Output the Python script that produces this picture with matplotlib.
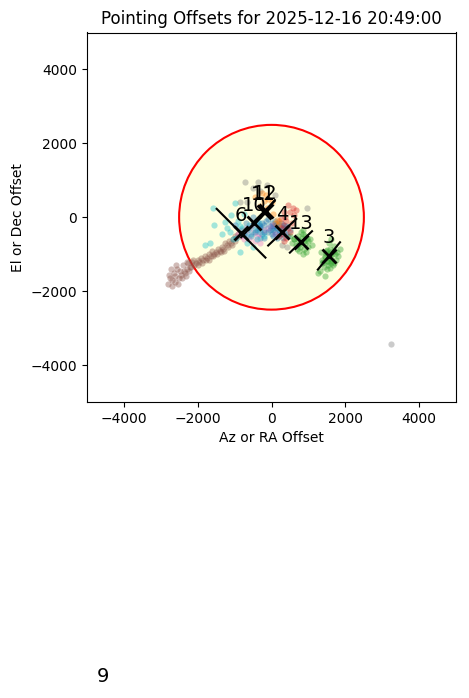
import numpy as np
import matplotlib
matplotlib.use("Agg")
import matplotlib.pyplot as plt
from matplotlib.patches import Circle

title = "Pointing Offsets for 2025-12-16 20:49:00"
xlabel = "Az or RA Offset"
ylabel = "El or Dec Offset"
limit_radius = 2500
nan = float("nan")

# scatter points per group (label -> list of (x, y))
g1 = [(-300,-300),(-200,-200),(-100,-400),(0,-300),(100,-250),(200,-350),(-250,-450),(-150,-100),
      (50,-500),(150,-150),(-350,-200),(250,-450),(-50,-250),(100,-400),(-200,-550),(300,-300),
      (0,-150),(-400,-350),(150,-550),(-100,-50),(350,-400),(-300,-550),(50,-350),(200,-200),
      (400,-250),(450,-500),(300,-550),(250,-150),(500,-350),(350,-200),(100,-100),(200,-450),
      (50,-250),(150,-300),(250,-350),(350,-300),(400,-450),(0,-450),(-50,-350),(120,-200)]
g2 = [(-450,550),(-120,250),(150,-70),(-200,450),(100,-150),(-300,300),(50,100),(-150,600)]
g3 = [(1550,-1050),(1480,-980),(1620,-1120),(1700,-900),(1400,-1200),(1520,-1300),(1650,-1000),
      (1580,-850),(1450,-1080),(1750,-1150),(1350,-950),(1600,-1250),(1500,-1400),(1680,-780),
      (1420,-1350),(1560,-700),(1800,-1050),(1300,-1450),(1640,-1180),(1470,-900),(1530,-1100),
      (1720,-1000),(1380,-1250),(1610,-950),(1490,-1180),(1850,-850),(1250,-1500),(1570,-1380),
      (1660,-1300),(1440,-1050),(1590,-1000),(1510,-880),(1700,-1250),(1360,-1150),(1620,-600),
      (1780,-950),(1460,-1600),(1540,-1220)]
g4 = [(445,330),(580,250),(500,140),(365,10),(400,-100),(300,-200),(600,50),(450,-300),
      (350,150),(550,-150),(250,-50),(650,200)]
g5 = [(-200,-350),(0,-200),(100,-450),(-100,-300)]
g6 = [(-2800,-1800),(-2750,-1650),(-2700,-1850),(-2650,-1500),(-2600,-1750),(-2550,-1400),
      (-2500,-1650),(-2450,-1550),(-2400,-1300),(-2350,-1500),(-2300,-1400),(-2250,-1250),
      (-2200,-1350),(-2150,-1200),(-2100,-1300),(-2780,-1550),(-2720,-1400),(-2680,-1700),
      (-2620,-1600),(-2580,-1300),(-2520,-1800),(-2480,-1450),(-2420,-1650),(-2380,-1450),
      (-2320,-1600),(-2280,-1200),(-2220,-1450),(-2180,-1350),(-2120,-1150),(-2050,-1250),
      (-2000,-1150),(-1950,-1200),(-1900,-1100),(-1850,-1150),(-1800,-1050),(-1750,-1100),
      (-1700,-1000),(-1650,-1050),(-1600,-900),(-1550,-1000),(-1500,-950),(-1450,-850),
      (-1400,-900),(-1350,-800),(-1300,-850),(-1250,-700),(-1200,-750),(-1150,-650),
      (-1100,-700),(-1050,-600),(-1000,-500),(-950,-550),(-900,-450),(-850,-500),(-800,-350),
      (-1980,-1300),(-1880,-1250),(-1780,-1150),(-1680,-1150),(-1580,-1050),(-1480,-1000),
      (-1380,-950),(-1280,-900),(-1180,-800),(-1080,-750),(-980,-650)]
g7 = [(-990,-210),(-800,-500),(-700,-300),(-600,-600),(-500,-400),(-400,-500),(-300,-700),
      (-850,-350),(-650,-450),(-550,-250),(-450,-650),(-750,-600),(-350,-450),(-900,-450)]
g8 = [(-716,950),(-365,950),(-120,870),(-850,410),(-660,410),(960,250),(284,-750),(420,-800),
      (3230,-3420),(-500,800),(100,600),(-300,700)]
g9 = [(-4550,-12900),(-4400,-12800)]
g10 = [(-1580,250),(-1550,-210),(-990,380),(-1260,-120),(-1120,-400),(-850,-940),(-1800,-750),
       (-1660,-700),(-500,-800),(-1200,-300),(-1000,-200),(-900,-100),(-800,-300),(-700,-500),
       (-600,-200),(-400,-600),(-300,-400),(-950,-550),(-1100,50),(-750,100),(-650,-700),
       (-450,-350),(-1350,-450),(-200,-500),(-850,-250),(-550,-450),(-1050,-600),(-350,-150)]
g11 = [(-600,-300),(-500,-200),(-450,-400),(-700,-150),(-550,-500),(-400,-100),(-650,-350),
       (-350,-300),(-750,-450),(-500,0),(-300,-250),(-250,-150),(-200,-400)]
g12 = [(-250,650),(-100,500),(0,400),(200,-100),(180,-200)]
g13 = [(800,-650),(700,-600),(900,-700),(950,-550),(650,-750),(780,-800),(850,-450),(1000,-650),
       (600,-600),(750,-900),(880,-850),(820,-550),(720,-500),(1100,-750),(550,-700),(930,-950),
       (680,-850),(860,-350),(760,-700),(1050,-600),(500,-500),(840,-1000),(710,-750),(980,-800),
       (790,-400),(620,-600),(900,-500),(870,-650)]
g14 = [(300,-450),(200,-500),(400,-550),(500,-400),(350,-650),(250,-300)]

group_labels = [1, 2, 3, 4, 5, 6, 7, 8, 9, 10, 11, 12, 13, 14]
group_points = [g1, g2, g3, g4, g5, g6, g7, g8, g9, g10, g11, g12, g13, g14]

# fitted centres and principal-axis half vectors per group (nan = no fit)
center_x = [nan, nan, 1554, 290, nan, -824, nan, nan, -4554, -470, -215, -160, 797, nan]
center_y = [nan, nan, -1047, -405, nan, -432, nan, nan, -12920, -162, 140, 165, -668, nan]
axis_dx = [300, 300, 300, 380, 250, 660, 350, 250, 300, 350, 300, 250, 300, 300]
axis_dy = [330, 300, 370, 360, 250, -660, 380, 250, 300, 380, 300, 300, 290, 330]

colors = plt.get_cmap("tab10").colors

fig = plt.figure(figsize=(4.69, 6.98), dpi=100)
ax = fig.add_axes([86.5/469, 1 - 402/698, 370/469, 369.5/698])

ax.add_patch(Circle((0, 0), limit_radius, facecolor="lightyellow", edgecolor="red",
                    linewidth=1.5, zorder=0))

for i, (lab, pts) in enumerate(zip(group_labels, group_points)):
    p = np.array(pts, dtype=float)
    c = colors[(lab - 1) % 10]
    ax.scatter(p[:, 0], p[:, 1], s=20, color=c, alpha=0.4, linewidths=0, zorder=2)

for i, lab in enumerate(group_labels):
    cx, cy = center_x[i], center_y[i]
    if np.isnan(cx) or np.isnan(cy):
        continue
    ax.plot([cx - axis_dx[i], cx + axis_dx[i]], [cy - axis_dy[i], cy + axis_dy[i]],
            color="black", linewidth=1.5, zorder=3)
    ax.plot([cx], [cy], marker="x", color="black", markersize=10, markeredgewidth=2,
            linestyle="none", zorder=4)
    ax.text(cx, cy + 230, str(lab), fontsize=14, ha="center", va="bottom", zorder=5)

ax.set_xlim(-5000, 5000)
ax.set_ylim(-5000, 5000)
ax.set_aspect("equal")
ax.set_xticks([-4000, -2000, 0, 2000, 4000])
ax.set_yticks([-4000, -2000, 0, 2000, 4000])
ax.set_title(title)
ax.set_xlabel(xlabel)
ax.set_ylabel(ylabel)

fig.savefig("out.png", dpi=100)
